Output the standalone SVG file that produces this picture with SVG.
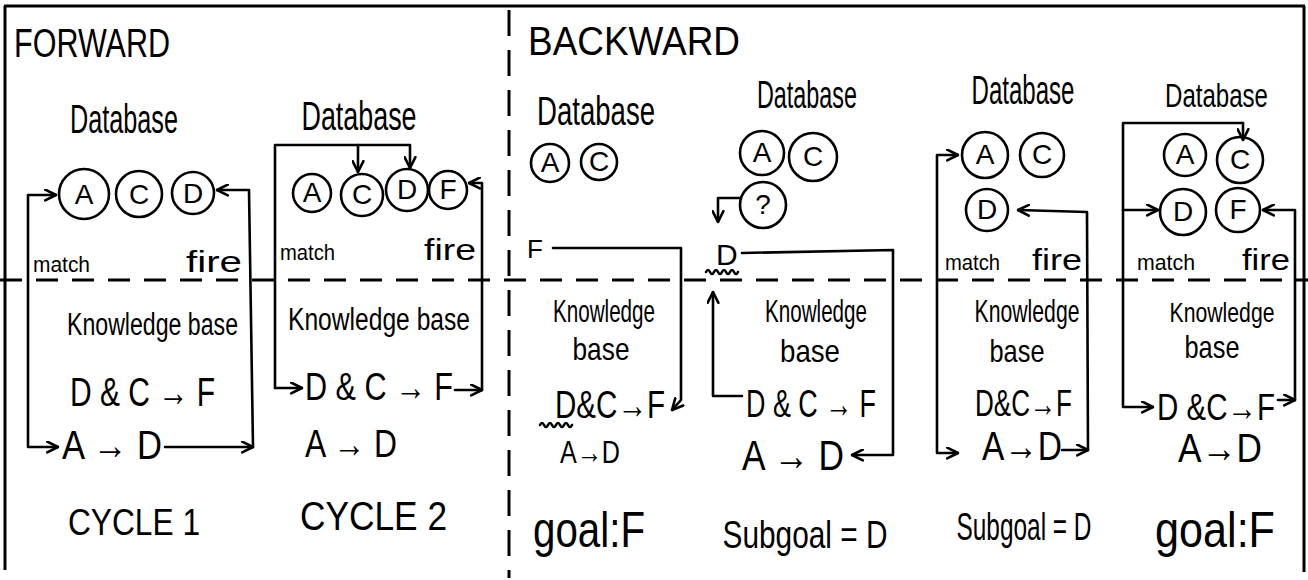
<svg xmlns="http://www.w3.org/2000/svg" width="1308" height="580" viewBox="0 0 1308 580">
<style>
text{font-family:"Liberation Sans",Arial,sans-serif;fill:#000;}
.m{text-anchor:middle;}
.e{text-anchor:end;}
.ln{fill:none;stroke:#000;stroke-width:2.6;stroke-linecap:round;stroke-linejoin:round;}
.c{fill:none;stroke:#000;stroke-width:2.6;}
.ct{font-size:28px;text-anchor:middle;}
.dash{fill:none;stroke:#000;stroke-width:3;}
</style>
<defs>
<marker id="ah" viewBox="0 0 12 12" refX="11" refY="6" markerWidth="13" markerHeight="13" orient="auto-start-reverse" markerUnits="userSpaceOnUse">
<path d="M1,1 L11,6 L1,11" fill="none" stroke="#000" stroke-width="2.4" stroke-linecap="round" stroke-linejoin="round"/>
</marker>
</defs>
<rect width="1308" height="580" fill="#fff"/>
<g id="frame">
<path class="dash" d="M4,6 L1305,6 M5,6 L5,570 M1304,6 L1304,572"/>
<path class="dash" d="M0,280 L1308,280" stroke-dasharray="22 14"/>
<path class="dash" d="M509,10 L509,578" stroke-dasharray="26 14"/>
</g>
<g id="titles">
<text x="14" y="57" font-size="40" textLength="156" lengthAdjust="spacingAndGlyphs">FORWARD</text>
<text x="528" y="55" font-size="40" textLength="212" lengthAdjust="spacingAndGlyphs">BACKWARD</text>
</g>
<g id="cycle1">
<text class="m" x="124" y="133" font-size="40" textLength="108" lengthAdjust="spacingAndGlyphs">Database</text>
<circle class="c" cx="84" cy="194" r="25"/><text class="ct" x="84" y="204">A</text>
<circle class="c" cx="139" cy="194" r="23"/><text class="ct" x="139" y="204">C</text>
<circle class="c" cx="193" cy="193" r="21"/><text class="ct" x="193" y="203">D</text>
<text x="33" y="272" font-size="22" textLength="57" lengthAdjust="spacingAndGlyphs">match</text>
<text x="186" y="272" font-size="30" textLength="56" lengthAdjust="spacingAndGlyphs">fire</text>
<text class="e" x="238" y="335" font-size="31" textLength="171" lengthAdjust="spacingAndGlyphs">Knowledge base</text>
<text x="70" y="406" font-size="40" textLength="145" lengthAdjust="spacingAndGlyphs">D &amp; C → F</text>
<text x="62" y="459" font-size="40" textLength="100" lengthAdjust="spacingAndGlyphs">A → D</text>
<text x="68" y="535" font-size="36" textLength="132" lengthAdjust="spacingAndGlyphs">CYCLE 1</text>
</g>
<g id="cycle2">
<text class="m" x="359" y="130" font-size="40" textLength="115" lengthAdjust="spacingAndGlyphs">Database</text>
<circle class="c" cx="312" cy="193" r="19"/><text class="ct" x="312" y="202" font-size="24">A</text>
<circle class="c" cx="362" cy="195" r="21"/><text class="ct" x="362" y="204" font-size="24">C</text>
<circle class="c" cx="407" cy="190" r="21"/><text class="ct" x="407" y="199" font-size="24">D</text>
<circle class="c" cx="448" cy="190" r="19"/><text class="ct" x="448" y="199" font-size="24">F</text>
<text x="280" y="260" font-size="22" textLength="55" lengthAdjust="spacingAndGlyphs">match</text>
<text x="424" y="260" font-size="30" textLength="52" lengthAdjust="spacingAndGlyphs">fire</text>
<text x="288" y="330" font-size="31" textLength="182" lengthAdjust="spacingAndGlyphs">Knowledge base</text>
<text x="305" y="400" font-size="38" textLength="148" lengthAdjust="spacingAndGlyphs">D &amp; C → F</text>
<text x="305" y="457" font-size="38" textLength="92" lengthAdjust="spacingAndGlyphs">A → D</text>
<text x="300" y="530" font-size="40" textLength="147" lengthAdjust="spacingAndGlyphs">CYCLE 2</text>
</g>
<g id="backward1">
<text class="m" x="596" y="125" font-size="40" textLength="118" lengthAdjust="spacingAndGlyphs">Database</text>
<circle class="c" cx="550" cy="163" r="19"/><text class="ct" x="550" y="172" font-size="24">A</text>
<circle class="c" cx="599" cy="162" r="18"/><text class="ct" x="599" y="171" font-size="24">C</text>
<text x="527" y="258" font-size="26">F</text>
<text class="m" x="604" y="322" font-size="32" textLength="102" lengthAdjust="spacingAndGlyphs">Knowledge</text>
<text class="m" x="601" y="360" font-size="32" textLength="57" lengthAdjust="spacingAndGlyphs">base</text>
<text x="555" y="418" font-size="38" textLength="110" lengthAdjust="spacingAndGlyphs">D&amp;C→F</text>
<text x="560" y="463" font-size="32" textLength="60" lengthAdjust="spacingAndGlyphs">A→D</text>
<text x="533" y="547" font-size="50" textLength="112" lengthAdjust="spacingAndGlyphs">goal:F</text>
</g>
<g id="backward2">
<text class="m" x="807" y="108" font-size="38" textLength="100" lengthAdjust="spacingAndGlyphs">Database</text>
<circle class="c" cx="762" cy="153" r="22"/><text class="ct" x="762" y="162" font-size="26">A</text>
<circle class="c" cx="813" cy="157" r="24"/><text class="ct" x="813" y="166" font-size="26">C</text>
<circle class="c" cx="763" cy="205" r="23"/><text class="ct" x="763" y="214" font-size="26">?</text>
<text x="716" y="265" font-size="30">D</text>
<text class="m" x="816" y="322" font-size="32" textLength="102" lengthAdjust="spacingAndGlyphs">Knowledge</text>
<text class="m" x="810" y="362" font-size="32" textLength="60" lengthAdjust="spacingAndGlyphs">base</text>
<text x="746" y="417" font-size="38" textLength="130" lengthAdjust="spacingAndGlyphs">D &amp; C → F</text>
<text x="742" y="470" font-size="42" textLength="102" lengthAdjust="spacingAndGlyphs">A → D</text>
<text class="m" x="805" y="548" font-size="39" textLength="165" lengthAdjust="spacingAndGlyphs">Subgoal = D</text>
</g>
<g id="backward3">
<text class="m" x="1023" y="104" font-size="40" textLength="103" lengthAdjust="spacingAndGlyphs">Database</text>
<circle class="c" cx="985" cy="155" r="23"/><text class="ct" x="985" y="164" font-size="26">A</text>
<circle class="c" cx="1042" cy="155" r="22"/><text class="ct" x="1042" y="164" font-size="26">C</text>
<circle class="c" cx="987" cy="210" r="21"/><text class="ct" x="987" y="219" font-size="26">D</text>
<text x="945" y="270" font-size="22" textLength="55" lengthAdjust="spacingAndGlyphs">match</text>
<text x="1032" y="270" font-size="30" textLength="50" lengthAdjust="spacingAndGlyphs">fire</text>
<text class="m" x="1027" y="322" font-size="32" textLength="105" lengthAdjust="spacingAndGlyphs">Knowledge</text>
<text class="m" x="1017" y="362" font-size="32" textLength="55" lengthAdjust="spacingAndGlyphs">base</text>
<text x="975" y="416" font-size="36" textLength="97" lengthAdjust="spacingAndGlyphs">D&amp;C→F</text>
<text x="982" y="460" font-size="40" textLength="80" lengthAdjust="spacingAndGlyphs">A→D</text>
<text class="m" x="1024" y="540" font-size="39" textLength="135" lengthAdjust="spacingAndGlyphs">Subgoal = D</text>
</g>
<g id="backward4">
<text class="e" x="1268" y="107" font-size="34" textLength="103" lengthAdjust="spacingAndGlyphs">Database</text>
<circle class="c" cx="1185" cy="155" r="21"/><text class="ct" x="1185" y="164" font-size="26">A</text>
<circle class="c" cx="1240" cy="160" r="23"/><text class="ct" x="1240" y="169" font-size="26">C</text>
<circle class="c" cx="1183" cy="212" r="23"/><text class="ct" x="1183" y="221" font-size="26">D</text>
<circle class="c" cx="1238" cy="210" r="22"/><text class="ct" x="1238" y="219" font-size="26">F</text>
<text x="1137" y="270" font-size="22" textLength="58" lengthAdjust="spacingAndGlyphs">match</text>
<text x="1242" y="270" font-size="30" textLength="48" lengthAdjust="spacingAndGlyphs">fire</text>
<text class="m" x="1222" y="322" font-size="28" textLength="105" lengthAdjust="spacingAndGlyphs">Knowledge</text>
<text class="m" x="1212" y="358" font-size="32" textLength="55" lengthAdjust="spacingAndGlyphs">base</text>
<text x="1157" y="420" font-size="36" textLength="118" lengthAdjust="spacingAndGlyphs">D &amp;C→F</text>
<text x="1178" y="462" font-size="40" textLength="84" lengthAdjust="spacingAndGlyphs">A→D</text>
<text x="1155" y="547" font-size="50" textLength="120" lengthAdjust="spacingAndGlyphs">goal:F</text>
</g>
<g id="connectors">
<path class="ln" d="M56,195 L28,195 L28,447 L58,447" marker-start="url(#ah)" marker-end="url(#ah)"/>
<path class="ln" d="M165,447 L253,447" marker-end="url(#ah)"/>
<path class="ln" d="M253,447 L249,190 L217,190" marker-end="url(#ah)"/>
<path class="ln" d="M275,388 L275,145 L410,145 L410,168" marker-end="url(#ah)"/>
<path class="ln" d="M358,145 L358,172" marker-end="url(#ah)"/>
<path class="ln" d="M275,388 L302,388" marker-end="url(#ah)"/>
<path class="ln" d="M455,390 L482,390" marker-end="url(#ah)"/>
<path class="ln" d="M482,390 L482,183 L469,183" marker-end="url(#ah)"/>
<path class="ln" d="M553,248 L681,248 L681,400 L672,410" marker-end="url(#ah)"/>
<path class="ln" stroke-width="1.8" d="M540,425 q2,-4 4,0 t4,0 t4,0 t4,0 t4,0 t4,0 t4,0 t4,0"/>
<path class="ln" d="M740,198 L718,198 L718,222" marker-end="url(#ah)"/>
<path class="ln" stroke-width="1.8" d="M706,272 q2,-4 4,0 t4,0 t4,0 t4,0 t4,0 t4,0 t4,0 t4,0"/>
<path class="ln" d="M742,253 L893,250 L893,455 L852,455" marker-end="url(#ah)"/>
<path class="ln" d="M742,396 L713,396 L713,292" marker-end="url(#ah)"/>
<path class="ln" d="M958,155 L937,155 L937,453 L958,453" marker-start="url(#ah)" marker-end="url(#ah)"/>
<path class="ln" d="M1062,450 L1088,450" marker-end="url(#ah)"/>
<path class="ln" d="M1088,450 L1087,212 L1018,210" marker-end="url(#ah)"/>
<path class="ln" d="M1243,123 L1123,123 L1123,407 L1153,407" marker-end="url(#ah)"/>
<path class="ln" d="M1243,123 L1243,140" marker-end="url(#ah)"/>
<path class="ln" d="M1123,210 L1158,210" marker-end="url(#ah)"/>
<path class="ln" d="M1278,400 L1295,400" marker-end="url(#ah)"/>
<path class="ln" d="M1295,400 L1295,210 L1263,210" marker-end="url(#ah)"/>
</g>
</svg>
